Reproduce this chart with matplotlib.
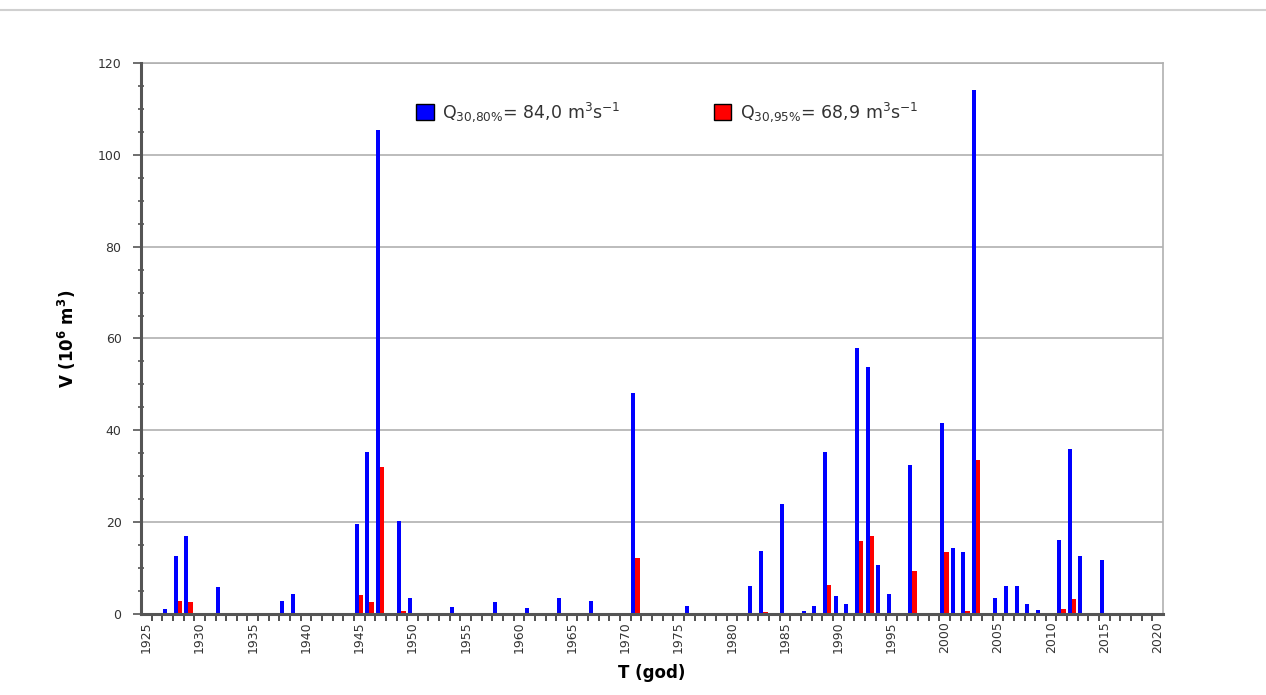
import numpy as np
import matplotlib
matplotlib.use('Agg')
import matplotlib.pyplot as plt
from matplotlib.lines import Line2D
from matplotlib.ticker import MultipleLocator, FixedLocator

plt.rcParams['font.family'] = ['DejaVu Sans']
plt.rcParams['mathtext.default'] = 'regular'

first_year = 1925
last_year = 2020

# Q30,80% volumes (10^6 m3)
blue_years = [1927, 1928, 1929, 1932, 1933, 1938, 1939, 1942, 1944, 1945, 1946, 1947,
              1949, 1950, 1954, 1958, 1961, 1962, 1964, 1967, 1971, 1972, 1976, 1982,
              1983, 1985, 1987, 1988, 1989, 1990, 1991, 1992, 1993, 1994, 1995, 1997,
              2000, 2001, 2002, 2003, 2005, 2006, 2007, 2008, 2009, 2011, 2012, 2013, 2015]
blue_vals = [1.2, 12.7, 17.0, 5.9, 0.3, 2.9, 4.4, 0.3, 0.3, 19.7, 35.3, 105.3,
             20.2, 3.4, 1.6, 2.6, 1.3, 0.3, 3.4, 2.9, 48.2, 0.3, 1.7, 6.0,
             13.7, 23.9, 0.7, 1.7, 35.3, 3.9, 2.2, 58.0, 53.9, 10.7, 4.3, 32.4,
             41.5, 14.4, 13.6, 114.1, 3.5, 6.0, 6.0, 2.1, 0.8, 16.2, 35.9, 12.7, 11.7]

# Q30,95% volumes
red_years = [1928, 1929, 1945, 1946, 1947, 1949, 1971, 1983, 1989, 1992, 1993, 1994,
             1997, 2000, 2001, 2002, 2003, 2011, 2012]
red_vals = [2.9, 2.6, 4.2, 2.6, 32.1, 0.6, 12.3, 0.4, 6.4, 16.0, 17.0, 0.3,
            9.3, 13.6, 0.3, 0.7, 33.5, 1.2, 3.3]

label_blue = r'Q$_{30{,}80\%}$= 84,0 m$^3$s$^{-1}$'
label_red = r'Q$_{30{,}95\%}$= 68,9 m$^3$s$^{-1}$'

years = np.arange(first_year, last_year + 1)
idx = np.arange(len(years))
blue = np.zeros(len(years))
red = np.zeros(len(years))
for y, v in zip(blue_years, blue_vals):
    blue[y - first_year] = v
for y, v in zip(red_years, red_vals):
    red[y - first_year] = v

fig = plt.figure(figsize=(12.66, 6.95), dpi=100)
ax = fig.add_axes([0.1114, 0.1165, 0.8072, 0.7929])

ax.bar(idx - 0.25, blue, width=0.38, color='#0000ff', label=label_blue, zorder=3)
ax.bar(idx + 0.15, red, width=0.42, color='#ff0000', label=label_red, zorder=3)

ax.set_xlim(-0.5, len(years) - 0.5)
ax.set_ylim(0, 120)

# y axis
ax.yaxis.set_major_locator(MultipleLocator(20))
ax.yaxis.set_minor_locator(MultipleLocator(5))
ax.tick_params(axis='y', which='major', direction='out', length=6, width=1.2,
               color='#555555', labelsize=9, labelcolor='#333333', pad=8)
ax.tick_params(axis='y', which='minor', direction='inout', length=5, width=1.2,
               color='#555555')
ax.grid(axis='y', which='major', color='#b0b0b0', linewidth=1.2, zorder=0)

# x axis: ticks between years, labels every 5 years
ax.xaxis.set_minor_locator(FixedLocator(idx[1:] - 0.5))
lab_idx = idx[::5]
ax.set_xticks(lab_idx)
ax.set_xticklabels([str(y) for y in years[::5]], rotation=90)
ax.tick_params(axis='x', which='major', length=0, labelsize=9, labelcolor='#333333', pad=5)
ax.tick_params(axis='x', which='minor', direction='out', length=5, width=1.2, color='#333333')

for s in ['left', 'bottom']:
    ax.spines[s].set_color('#555555')
    ax.spines[s].set_linewidth(2.2)
    ax.spines[s].set_zorder(4)
for s in ['top', 'right']:
    ax.spines[s].set_color('#b0b0b0')
    ax.spines[s].set_linewidth(1.2)

ax.set_ylabel(r'V (10$^6$ m$^3$)', fontsize=12, fontweight='bold', labelpad=14)
ax.set_xlabel('T (god)', fontsize=12, fontweight='bold', labelpad=8)

leg = ax.legend(loc='center left', bbox_to_anchor=(0.254, 0.911), ncol=2, frameon=False,
                fontsize=12.5, columnspacing=5.35, handlelength=1.0, handleheight=1.1,
                handletextpad=0.5)
for h in leg.legend_handles:
    h.set_edgecolor('black')
    h.set_linewidth(1.0)
for t in leg.get_texts():
    t.set_color('#333333')

fig.add_artist(Line2D([0, 1], [0.986, 0.986], color='#d0d0d0', linewidth=1.5,
                      transform=fig.transFigure))

fig.savefig('out.png', dpi=100)
